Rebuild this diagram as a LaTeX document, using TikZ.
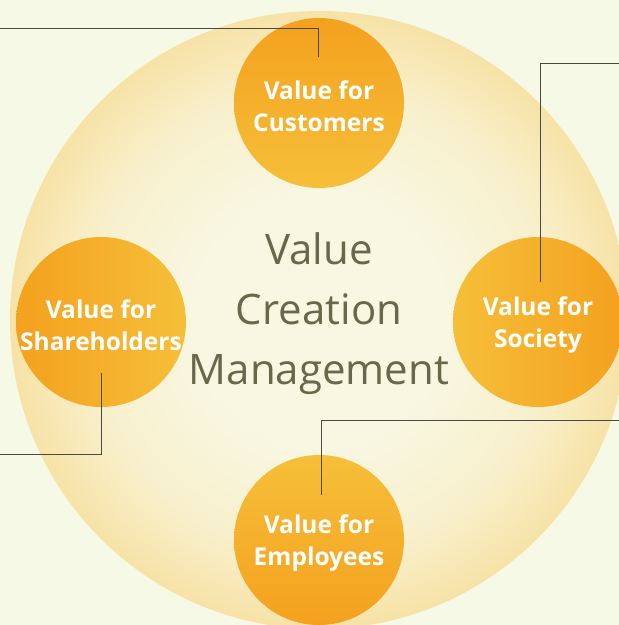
\documentclass[tikz,border=0pt]{standalone}
\usepackage{fontspec}
\setmainfont{Open Sans}
\definecolor{bg}{HTML}{F7F9E7}
\definecolor{glowA}{HTML}{F8F7E2}
\definecolor{glowB}{HTML}{F8F0CC}
\definecolor{glowC}{HTML}{F7DE9A}
\definecolor{glowD}{HTML}{F6CB60}
\definecolor{orDark}{HTML}{F4A11E}
\definecolor{orLight}{HTML}{F6BF39}
\definecolor{midtext}{HTML}{6A684A}
\definecolor{linec}{HTML}{4A4A42}
\pgfdeclareradialshading{bigglow}{\pgfpoint{0bp}{0bp}}{color(0bp)=(glowA); color(10bp)=(glowA); color(19bp)=(glowB); color(27bp)=(glowC); color(35.36bp)=(glowD); color(50bp)=(glowD)}
\tikzset{
  valuecircle/.style={circle, minimum size=170pt, inner sep=0pt},
  valuetext/.style={align=center, text=white, inner sep=0pt,
    font=\fontsize{24.5}{32}\selectfont\bfseries},
  leader/.style={draw=linec, line width=0.9pt},
}
\begin{document}
\begin{tikzpicture}[x=1pt,y=-1pt]
\useasboundingbox (0,0) rectangle (619,625);
\fill[bg] (0,0) rectangle (619,625);
\begin{scope}
\clip (0,0) rectangle (619,625);
\node[circle, minimum size=618pt, inner sep=0pt, shading=bigglow] (big) at (319,320) {};
\node[valuecircle, top color=orDark, bottom color=orLight] (cust) at (319,103) {};
\node[valuecircle, left color=orDark, right color=orLight] (share) at (101,322) {};
\node[valuecircle, left color=orLight, right color=orDark] (soc) at (538,322) {};
\node[valuecircle, top color=orLight, bottom color=orDark] (emp) at (319,540) {};
\node[valuetext, yshift=-3pt] (custT) at (cust.center) {Value for\\Customers};
\node[valuetext, yshift=-3pt] (shareT) at (share.center) {Value for\\Shareholders};
\node[valuetext, yshift=-3pt] (socT) at (soc.center) {Value for\\Society};
\node[valuetext, yshift=-3pt] (empT) at (emp.center) {Value for\\Employees};
\node[align=center, text=midtext, font=\fontsize{42}{60}\selectfont] (core) at (319,314) {Value\\Creation\\Management};
\coordinate (e1) at (0,28);
\coordinate (t1) at (318,57);
\coordinate (e2) at (619,63);
\coordinate (t2) at (540,282);
\coordinate (e3) at (0,454);
\coordinate (t3) at (101,373);
\coordinate (e4) at (619,420);
\coordinate (t4) at (321,495);
\draw[leader] (e1) -| (t1);
\draw[leader] (e2) -| (t2);
\draw[leader] (e3) -| (t3);
\draw[leader] (e4) -| (t4);
\end{scope}
\end{tikzpicture}
\end{document}
